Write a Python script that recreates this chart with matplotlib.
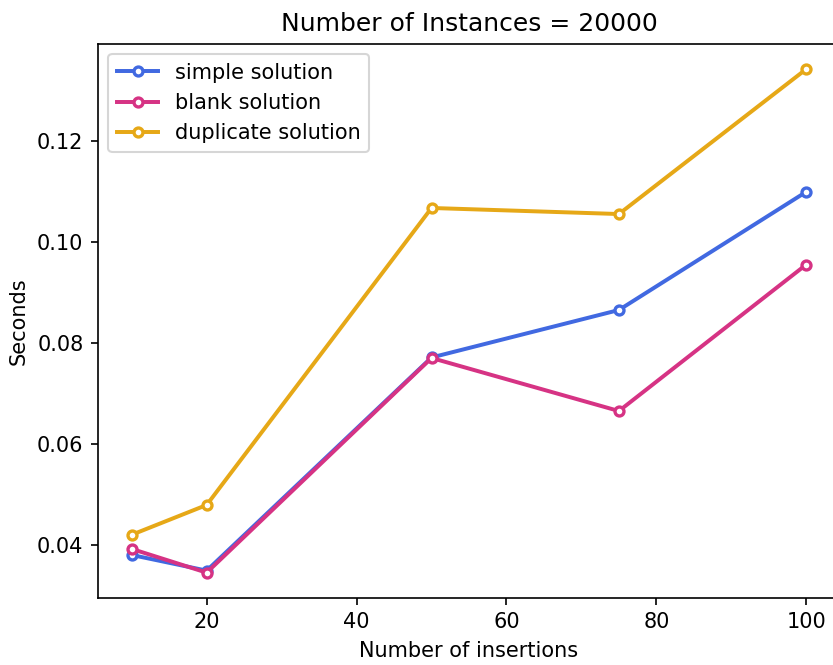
import matplotlib
matplotlib.use("Agg")
import matplotlib.pyplot as plt

x = [10, 20, 50, 75, 100]
simple = [0.0380, 0.0349, 0.0771, 0.0865, 0.1099]
blank = [0.0392, 0.0345, 0.0770, 0.0665, 0.0955]
duplicate = [0.0420, 0.0479, 0.1067, 0.1055, 0.1342]
labels = ["simple solution", "blank solution", "duplicate solution"]
colors = ["#4169E1", "#D63384", "#E6A817"]

fig = plt.figure(figsize=(833/150, 665/150), dpi=150)
ax = fig.add_axes([98/833, 0.101, 742/833, 0.833])
for ys, lab, c in zip([simple, blank, duplicate], labels, colors):
    ax.plot(x, ys, color=c, lw=1.9, marker="o", markersize=4.3,
            markerfacecolor="white", markeredgewidth=1.6, markeredgecolor=c, label=lab)
ax.set_title("Number of Instances = 20000", fontsize=12)
ax.set_xlabel("Number of insertions")
ax.set_ylabel("Seconds")
ax.set_xticks([20, 40, 60, 80, 100])
ax.set_yticks([0.04, 0.06, 0.08, 0.10, 0.12])
ax.legend(loc="upper left")
fig.savefig("out.png", dpi=150)
